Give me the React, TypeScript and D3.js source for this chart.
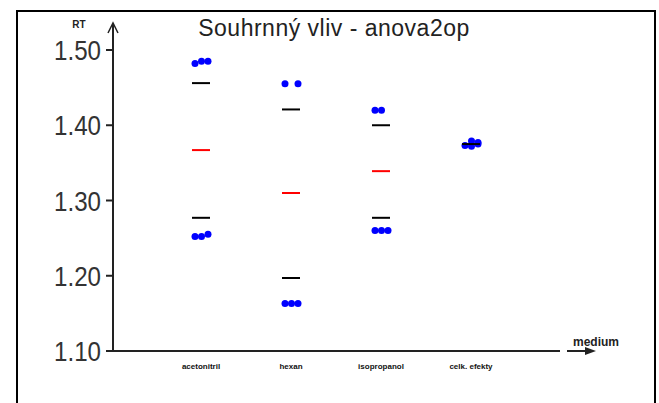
import React from 'react'
import * as d3 from 'd3'

const media = ['acetonitril', 'hexan', 'isopropanol', 'celk. efekty']
const means = [1.367, 1.31, 1.339, 1.375]
const upperCI = [1.456, 1.421, 1.4, null]
const lowerCI = [1.277, 1.197, 1.277, null]

// observed values per medium and replicate index
const pointMedium = [0, 0, 0, 0, 0, 0, 1, 1, 1, 1, 1, 2, 2, 2, 2, 2, 3, 3, 3, 3, 3]
const pointRep = [0, 1, 2, 0, 1, 2, 0, 2, 0, 1, 2, 0, 1, 0, 1, 2, 0, 1, 2, 1, 2]
const pointValue = [
  1.482, 1.485, 1.485, 1.252, 1.252, 1.255,
  1.455, 1.455, 1.163, 1.163, 1.163,
  1.42, 1.42, 1.26, 1.26, 1.26,
  1.373, 1.379, 1.375, 1.372, 1.377,
]
const yTicks = [1.1, 1.2, 1.3, 1.4, 1.5]

const App = () => {
  const width = 659
  const height = 403

  const y = d3.scaleLinear().domain([1.1, 1.5]).range([351, 50])
  const x = d3.scalePoint<string>().domain(media).range([201, 471])
  const rep = d3.scalePoint<number>().domain([0, 1, 2]).range([-6, 7])

  const axisX0 = 113
  const axisX1 = 560
  const lineHalf = 9

  return (
    <svg width={width} height={height} style={{ position: 'absolute', left: 0, top: 0, background: '#fff' }}>
      <rect x={17} y={11} width={638} height={420} fill="#fff" stroke="#000" strokeWidth={2} />

      <text x={334} y={36} textAnchor="middle" fontFamily="Liberation Sans, Arial, sans-serif" fontSize={23} fill="#222" letterSpacing={0.5}>
        Souhrnný vliv - anova2op
      </text>

      {/* y axis */}
      <line x1={axisX0} x2={axisX0} y1={y(1.1)} y2={24} stroke="#222" strokeWidth={2} />
      <path d={`M${axisX0 - 5},33 L${axisX0},23 L${axisX0 + 5},33`} fill="none" stroke="#222" strokeWidth={1.5} />
      <text x={79} y={28} textAnchor="middle" fontFamily="Liberation Sans, Arial, sans-serif" fontSize={10} fontWeight="bold" fill="#222">
        RT
      </text>
      {yTicks.map((t) => (
        <g key={t}>
          <line x1={106} x2={axisX0} y1={y(t)} y2={y(t)} stroke="#222" strokeWidth={2} />
          <text
            x={101}
            y={y(t) + 10}
            textAnchor="end"
            fontFamily="Liberation Sans Narrow, Liberation Sans, Arial, sans-serif"
            fontSize={28}
            fill="#333"
            textLength={47}
            lengthAdjust="spacingAndGlyphs"
          >
            {d3.format('.2f')(t)}
          </text>
        </g>
      ))}

      {/* x axis */}
      <line x1={axisX0} x2={axisX1} y1={y(1.1)} y2={y(1.1)} stroke="#222" strokeWidth={2} />
      <line x1={567} x2={588} y1={y(1.1)} y2={y(1.1)} stroke="#222" strokeWidth={2} />
      <path d={`M585,${y(1.1) - 4} L596,${y(1.1)} L585,${y(1.1) + 4} Z`} fill="#222" />
      <text x={596} y={346} textAnchor="middle" fontFamily="Liberation Sans, Arial, sans-serif" fontSize={12} fontWeight="bold" fill="#222">
        medium
      </text>
      {media.map((m) => (
        <text key={m} x={x(m)} y={369} textAnchor="middle" fontFamily="Liberation Sans, Arial, sans-serif" fontSize={8} fontWeight="bold" fill="#111">
          {m}
        </text>
      ))}

      {/* confidence limits and means */}
      {media.map((m, i) => (
        <g key={m}>
          {upperCI[i] != null && (
            <line x1={x(m)! - lineHalf} x2={x(m)! + lineHalf} y1={y(upperCI[i]!)} y2={y(upperCI[i]!)} stroke="#000" strokeWidth={2} />
          )}
          {lowerCI[i] != null && (
            <line x1={x(m)! - lineHalf} x2={x(m)! + lineHalf} y1={y(lowerCI[i]!)} y2={y(lowerCI[i]!)} stroke="#000" strokeWidth={2} />
          )}
          {upperCI[i] != null && (
            <line x1={x(m)! - lineHalf} x2={x(m)! + lineHalf} y1={y(means[i])} y2={y(means[i])} stroke="#ff0000" strokeWidth={2} />
          )}
        </g>
      ))}

      {/* observations */}
      {pointValue.map((v, i) => (
        <circle key={i} cx={x(media[pointMedium[i]])! + rep(pointRep[i])!} cy={y(v)} r={3.5} fill="#0000ff" />
      ))}

      {/* overall level for last group drawn over the points */}
      {media.map((m, i) =>
        upperCI[i] == null ? (
          <line key={m} x1={x(m)! - lineHalf} x2={x(m)! + lineHalf} y1={y(means[i])} y2={y(means[i])} stroke="#000" strokeWidth={2} />
        ) : null
      )}
    </svg>
  )
}

export default App
